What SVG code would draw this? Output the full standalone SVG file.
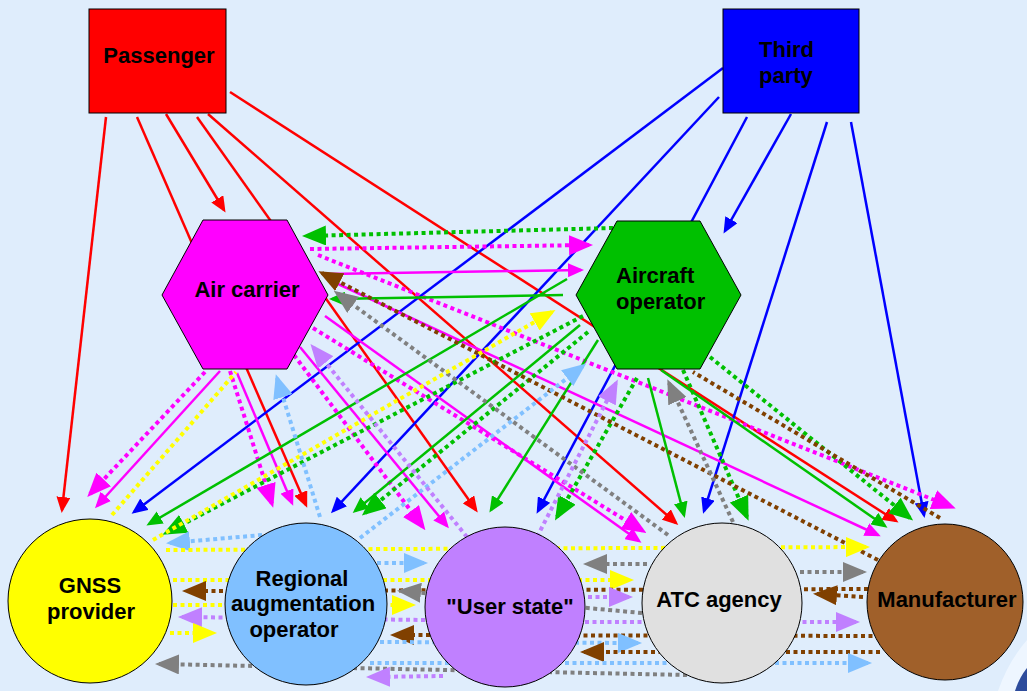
<svg xmlns="http://www.w3.org/2000/svg" width="1027" height="691" viewBox="0 0 1027 691">
<style>
.s{fill:none;stroke-width:2.5}
.d{fill:none;stroke-width:4;stroke-dasharray:4 3.5}
.r{stroke:#FF0000}.b{stroke:#0000FF}.m{stroke:#FF00FF}.g{stroke:#00C000}
.y{stroke:#FFFF00}.lb{stroke:#80C0FF}.pu{stroke:#C080FF}.gy{stroke:#808080}.br{stroke:#804000}
.node{stroke:#000;stroke-width:1}
.t{font-family:"Liberation Sans",Arial,sans-serif;font-weight:bold;font-size:22px;fill:#000}
</style>
<defs>
<marker id="sr" viewBox="0 0 16 14" markerWidth="16" markerHeight="14" refX="13" refY="7" orient="auto" markerUnits="userSpaceOnUse"><path d="M0,0L16,7L0,14Z" fill="#FF0000"/></marker>
<marker id="sb" viewBox="0 0 16 14" markerWidth="16" markerHeight="14" refX="13" refY="7" orient="auto" markerUnits="userSpaceOnUse"><path d="M0,0L16,7L0,14Z" fill="#0000FF"/></marker>
<marker id="sm" viewBox="0 0 16 14" markerWidth="16" markerHeight="14" refX="13" refY="7" orient="auto" markerUnits="userSpaceOnUse"><path d="M0,0L16,7L0,14Z" fill="#FF00FF"/></marker>
<marker id="sg" viewBox="0 0 16 14" markerWidth="16" markerHeight="14" refX="13" refY="7" orient="auto" markerUnits="userSpaceOnUse"><path d="M0,0L16,7L0,14Z" fill="#00C000"/></marker>
<marker id="dm" viewBox="0 0 24 20" markerWidth="24" markerHeight="20" refX="20" refY="10" orient="auto" markerUnits="userSpaceOnUse"><path d="M0,0L24,10L0,20Z" fill="#FF00FF"/></marker>
<marker id="dg" viewBox="0 0 24 20" markerWidth="24" markerHeight="20" refX="20" refY="10" orient="auto" markerUnits="userSpaceOnUse"><path d="M0,0L24,10L0,20Z" fill="#00C000"/></marker>
<marker id="dy" viewBox="0 0 24 20" markerWidth="24" markerHeight="20" refX="20" refY="10" orient="auto" markerUnits="userSpaceOnUse"><path d="M0,0L24,10L0,20Z" fill="#FFFF00"/></marker>
<marker id="dlb" viewBox="0 0 24 20" markerWidth="24" markerHeight="20" refX="20" refY="10" orient="auto" markerUnits="userSpaceOnUse"><path d="M0,0L24,10L0,20Z" fill="#80C0FF"/></marker>
<marker id="dpu" viewBox="0 0 24 20" markerWidth="24" markerHeight="20" refX="20" refY="10" orient="auto" markerUnits="userSpaceOnUse"><path d="M0,0L24,10L0,20Z" fill="#C080FF"/></marker>
<marker id="dgy" viewBox="0 0 24 20" markerWidth="24" markerHeight="20" refX="20" refY="10" orient="auto" markerUnits="userSpaceOnUse"><path d="M0,0L24,10L0,20Z" fill="#808080"/></marker>
<marker id="dbr" viewBox="0 0 24 20" markerWidth="24" markerHeight="20" refX="20" refY="10" orient="auto" markerUnits="userSpaceOnUse"><path d="M0,0L24,10L0,20Z" fill="#804000"/></marker>
</defs>
<rect x="0" y="0" width="1027" height="691" fill="#DFEDFC"/>
<path d="M998,691 Q1008,662 1027,640 L1027,668 Q1019,678 1015,691 Z" fill="#EEF6FF"/>
<path d="M1015,691 Q1019,678 1027,668 L1027,691 Z" fill="#2E4C9C"/>
<g id="connectors">
<line class="s r" x1="106" y1="117" x2="62" y2="510" marker-end="url(#sr)"/>
<line class="s r" x1="137" y1="117" x2="306" y2="505" marker-end="url(#sr)"/>
<line class="s r" x1="166" y1="114" x2="224" y2="210" marker-end="url(#sr)"/>
<line class="s r" x1="197" y1="117" x2="476" y2="510" marker-end="url(#sr)"/>
<line class="s r" x1="208" y1="114" x2="676" y2="523" marker-end="url(#sr)"/>
<line class="s r" x1="230" y1="92" x2="896" y2="521" marker-end="url(#sr)"/>
<line class="s b" x1="723" y1="68" x2="134" y2="512" marker-end="url(#sb)"/>
<line class="s b" x1="719" y1="97" x2="333" y2="511" marker-end="url(#sb)"/>
<line class="s b" x1="747" y1="117" x2="538" y2="511" marker-end="url(#sb)"/>
<line class="s b" x1="791" y1="114" x2="725" y2="231" marker-end="url(#sb)"/>
<line class="s b" x1="827" y1="122" x2="704" y2="511" marker-end="url(#sb)"/>
<line class="s b" x1="851" y1="122" x2="924" y2="515" marker-end="url(#sb)"/>
<line class="d m" x1="310" y1="249" x2="589" y2="245" marker-end="url(#dm)"/>
<line class="s m" x1="328" y1="274" x2="581" y2="270" marker-end="url(#sm)"/>
<line class="d m" x1="205" y1="372" x2="90" y2="494" marker-end="url(#dm)"/>
<line class="s m" x1="220" y1="371" x2="97" y2="506" marker-end="url(#sm)"/>
<line class="d m" x1="230" y1="371" x2="272" y2="504" marker-end="url(#dm)"/>
<line class="s m" x1="237" y1="373" x2="292" y2="503" marker-end="url(#sm)"/>
<line class="d m" x1="294" y1="355" x2="423" y2="527" marker-end="url(#dm)"/>
<line class="s m" x1="300" y1="347" x2="447" y2="526" marker-end="url(#sm)"/>
<line class="d m" x1="313" y1="328" x2="643" y2="531" marker-end="url(#dm)"/>
<line class="s m" x1="325" y1="316" x2="639" y2="541" marker-end="url(#sm)"/>
<line class="d m" x1="318" y1="255" x2="952" y2="507" marker-end="url(#dm)"/>
<line class="s m" x1="336" y1="283" x2="878" y2="535" marker-end="url(#sm)"/>
<line class="d g" x1="613" y1="228" x2="306" y2="236" marker-end="url(#dg)"/>
<line class="s g" x1="563" y1="295" x2="332" y2="299" marker-end="url(#sg)"/>
<line class="s g" x1="567" y1="279" x2="149" y2="524" marker-end="url(#sg)"/>
<line class="d g" x1="583" y1="316" x2="166" y2="533" marker-end="url(#dg)"/>
<line class="s g" x1="580" y1="325" x2="355" y2="511" marker-end="url(#sg)"/>
<line class="d g" x1="588" y1="332" x2="365" y2="513" marker-end="url(#dg)"/>
<line class="s g" x1="598" y1="340" x2="491" y2="510" marker-end="url(#sg)"/>
<line class="d g" x1="637" y1="378" x2="557" y2="517" marker-end="url(#dg)"/>
<line class="s g" x1="648" y1="378" x2="684" y2="515" marker-end="url(#sg)"/>
<line class="d g" x1="683" y1="370" x2="747" y2="517" marker-end="url(#dg)"/>
<line class="s g" x1="661" y1="370" x2="885" y2="526" marker-end="url(#sg)"/>
<line class="d g" x1="710" y1="357" x2="910" y2="518" marker-end="url(#dg)"/>
<line class="d br" x1="878" y1="560" x2="322" y2="273" marker-end="url(#dbr)"/>
<line class="d br" x1="940" y1="518" x2="693" y2="372"/>
<line class="d gy" x1="668" y1="535" x2="337" y2="293" marker-end="url(#dgy)"/>
<line class="d gy" x1="733" y1="522" x2="669" y2="383" marker-end="url(#dgy)"/>
<line class="d y" x1="112" y1="515" x2="236" y2="372"/>
<line class="d y" x1="153" y1="540" x2="552" y2="312" marker-end="url(#dy)"/>
<line class="d lb" x1="320" y1="517" x2="277" y2="378" marker-end="url(#dlb)"/>
<line class="d lb" x1="360" y1="538" x2="583" y2="366" marker-end="url(#dlb)"/>
<line class="d pu" x1="467" y1="537" x2="313" y2="347" marker-end="url(#dpu)"/>
<line class="d pu" x1="537" y1="537" x2="616" y2="383" marker-end="url(#dpu)"/>
<line class="d lb" x1="262" y1="535" x2="170" y2="543" marker-end="url(#dlb)"/>
<line class="d y" x1="166" y1="550" x2="866" y2="547" marker-end="url(#dy)"/>
<line class="d lb" x1="377" y1="563" x2="424" y2="563" marker-end="url(#dlb)"/>
<line class="d y" x1="173" y1="580" x2="630" y2="580" marker-end="url(#dy)"/>
<line class="d br" x1="868" y1="589" x2="186" y2="591" marker-end="url(#dbr)"/>
<line class="d br" x1="863" y1="597" x2="817" y2="594" marker-end="url(#dbr)"/>
<line class="d gy" x1="647" y1="564" x2="587" y2="564" marker-end="url(#dgy)"/>
<line class="d pu" x1="588" y1="597" x2="629" y2="597" marker-end="url(#dpu)"/>
<line class="d gy" x1="642" y1="613" x2="401" y2="591" marker-end="url(#dgy)"/>
<line class="d y" x1="173" y1="605" x2="412" y2="605" marker-end="url(#dy)"/>
<line class="d pu" x1="425" y1="620" x2="182" y2="617" marker-end="url(#dpu)"/>
<line class="d pu" x1="585" y1="622" x2="856" y2="622" marker-end="url(#dpu)"/>
<line class="d br" x1="880" y1="636" x2="394" y2="635" marker-end="url(#dbr)"/>
<line class="d lb" x1="380" y1="642" x2="638" y2="643" marker-end="url(#dlb)"/>
<line class="d br" x1="880" y1="652" x2="584" y2="652" marker-end="url(#dbr)"/>
<line class="d lb" x1="370" y1="663" x2="868" y2="663" marker-end="url(#dlb)"/>
<line class="d gy" x1="687" y1="675" x2="159" y2="664" marker-end="url(#dgy)"/>
<line class="d pu" x1="443" y1="676" x2="370" y2="677" marker-end="url(#dpu)"/>
<line class="d y" x1="170" y1="633" x2="213" y2="633" marker-end="url(#dy)"/>
<line class="d gy" x1="800" y1="572" x2="863" y2="572" marker-end="url(#dgy)"/>
</g>
<g id="passenger">
<rect class="node" x="89" y="9" width="137" height="104" fill="#FF0000"/>
<text class="t" x="159" y="63" text-anchor="middle">Passenger</text>
</g>
<g id="third-party">
<rect class="node" x="723" y="9" width="136" height="104" fill="#0000FF"/>
<text class="t" x="759" y="57">Third</text>
<text class="t" x="759" y="83">party</text>
</g>
<g id="air-carrier">
<polygon class="node" points="203,220 287,220 328,295 287,369 203,369 162,295" fill="#FF00FF"/>
<text class="t" x="247" y="297" text-anchor="middle">Air carrier</text>
</g>
<g id="aircraft-operator">
<polygon class="node" points="617,221 700,221 741,295 700,369 617,369 576,295" fill="#00C000"/>
<text class="t" x="616" y="283">Aircraft</text>
<text class="t" x="616" y="309">operator</text>
</g>
<g id="gnss-provider">
<circle class="node" cx="90" cy="601" r="82" fill="#FFFF00"/>
<text class="t" x="90" y="593" text-anchor="middle">GNSS</text>
<text class="t" x="91" y="619" text-anchor="middle">provider</text>
</g>
<g id="regional-augmentation-operator">
<circle class="node" cx="306" cy="604" r="81" fill="#80C0FF"/>
<text class="t" x="302" y="586" text-anchor="middle">Regional</text>
<text class="t" x="303" y="611" text-anchor="middle">augmentation</text>
<text class="t" x="294" y="637" text-anchor="middle">operator</text>
</g>
<g id="user-state">
<circle class="node" cx="505" cy="607" r="80" fill="#C080FF"/>
<text class="t" x="510" y="614" text-anchor="middle">"User state"</text>
</g>
<g id="atc-agency">
<circle class="node" cx="722" cy="603" r="80" fill="#E0E0E0"/>
<text class="t" x="719" y="607" text-anchor="middle">ATC agency</text>
</g>
<g id="manufacturer">
<circle class="node" cx="945" cy="602" r="78" fill="#A0602A"/>
<text class="t" x="947" y="607" text-anchor="middle">Manufacturer</text>
</g>
</svg>
